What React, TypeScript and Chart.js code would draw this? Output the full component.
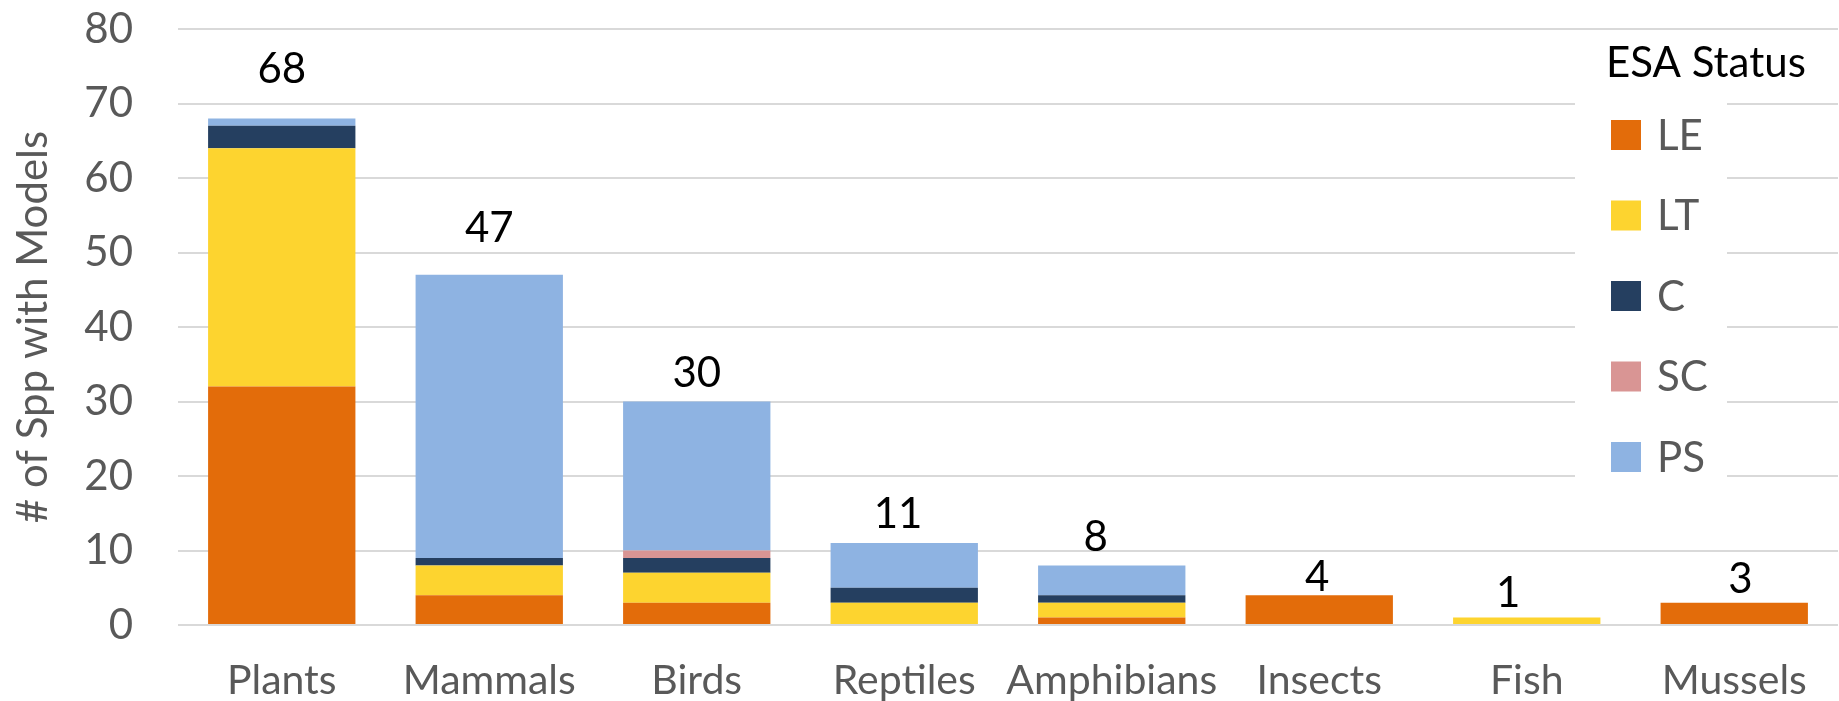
import React, { useEffect, useRef } from "react";
import { Chart, registerables } from "chart.js";

Chart.register(...registerables);

const categories = ["Plants", "Mammals", "Birds", "Reptiles", "Amphibians", "Insects", "Fish", "Mussels"];
const statusLabels = ["LE", "LT", "C", "SC", "PS"];
const leValues = [32, 4, 3, 0, 1, 4, 0, 3];
const ltValues = [32, 4, 4, 3, 2, 0, 1, 0];
const cValues = [3, 1, 2, 2, 1, 0, 0, 0];
const scValues = [0, 0, 1, 0, 0, 0, 0, 0];
const psValues = [1, 38, 20, 6, 4, 0, 0, 0];
const totals = [68, 47, 30, 11, 8, 4, 1, 3];
// where each total label sits: axis units (y) and category shift (x)
const totalLabelAt = [74.6, 53.2, 33.8, 14.9, 11.8, 6.4, 4.3, 6.1];
const totalLabelShift = [0, 0, 0, -0.03, -0.077, -0.01, -0.09, 0.03];
const yMax = 80;
const yStep = 10;
const legendTitle = "ESA Status";
const yTitle = "# of Spp with Models";

const statusColors = ["#E36C0A", "#FDD42F", "#253F60", "#D99594", "#8EB3E2"];
const FONT = "Lato, 'Open Sans', sans-serif";
const GRAY = "#595959";

const totalsPlugin = {
  id: "totalsLabels",
  afterDatasetsDraw(chart: any) {
    const { ctx } = chart;
    const xs = chart.scales.x;
    const ys = chart.scales.y;
    ctx.save();
    ctx.font = `42px ${FONT}`;
    ctx.fillStyle = "#000000";
    ctx.textAlign = "center";
    ctx.textBaseline = "middle";
    totals.forEach((t, i) => {
      ctx.fillText(
        String(t),
        xs.getPixelForValue(i + totalLabelShift[i]),
        ys.getPixelForValue(totalLabelAt[i])
      );
    });
    ctx.restore();
  },
};

const legendPlugin = {
  id: "insetLegend",
  afterDatasetsDraw(chart: any) {
    const { ctx } = chart;
    ctx.save();
    ctx.fillStyle = "#FFFFFF";
    ctx.fillRect(1575, 86, 152, 398);
    ctx.font = `42px ${FONT}`;
    ctx.fillStyle = "#000000";
    ctx.textAlign = "left";
    ctx.textBaseline = "middle";
    ctx.fillText(legendTitle, 1606, 63);
    chart.data.datasets.forEach((ds: any, k: number) => {
      const cy = 135 + k * 80.5;
      ctx.fillStyle = ds.backgroundColor;
      ctx.fillRect(1611, cy - 15, 30, 30);
      ctx.fillStyle = GRAY;
      ctx.fillText(ds.label, 1657, cy + 1);
    });
    ctx.restore();
  },
};

export default function App() {
  const ref = useRef<HTMLCanvasElement | null>(null);
  useEffect(() => {
    document.body.style.margin = "0";
    const series = [leValues, ltValues, cValues, scValues, psValues];
    const chart = new Chart(ref.current as HTMLCanvasElement, {
      type: "bar",
      data: {
        labels: categories,
        datasets: statusLabels.map((l, k) => ({
          label: l,
          data: series[k],
          backgroundColor: statusColors[k],
          borderWidth: 0,
          categoryPercentage: 1,
          barPercentage: 0.71,
        })),
      },
      options: {
        animation: false,
        responsive: false,
        maintainAspectRatio: false,
        layout: { padding: { top: 29, right: 1, left: 0, bottom: 0 } },
        plugins: {
          legend: { display: false },
          tooltip: { enabled: false },
        },
        scales: {
          x: {
            stacked: true,
            grid: { display: false, drawTicks: false },
            border: { display: false },
            ticks: {
              color: GRAY,
              font: { family: FONT, size: 41 },
              padding: 31,
              maxRotation: 0,
              minRotation: 0,
              autoSkip: false,
            },
            afterFit: (s: any) => {
              s.height = 76;
            },
          },
          y: {
            stacked: true,
            min: 0,
            max: yMax,
            ticks: { stepSize: yStep, color: GRAY, font: { family: FONT, size: 42 }, padding: 0 },
            grid: {
              color: "#D9D9D9",
              lineWidth: 2,
              drawTicks: true,
              tickLength: 45,
              tickColor: "rgba(0,0,0,0)",
            },
            border: { display: false },
            title: {
              display: true,
              text: yTitle,
              color: GRAY,
              font: { family: FONT, size: 42 },
              padding: { top: 8, bottom: 0 },
            },
            afterFit: (s: any) => {
              s.width = 178;
            },
          },
        },
      },
      plugins: [totalsPlugin, legendPlugin],
    });
    return () => chart.destroy();
  }, []);
  return (
    <div style={{ width: 1839, height: 701 }}>
      <canvas ref={ref} width={1839} height={701} style={{ display: "block" }} />
    </div>
  );
}
